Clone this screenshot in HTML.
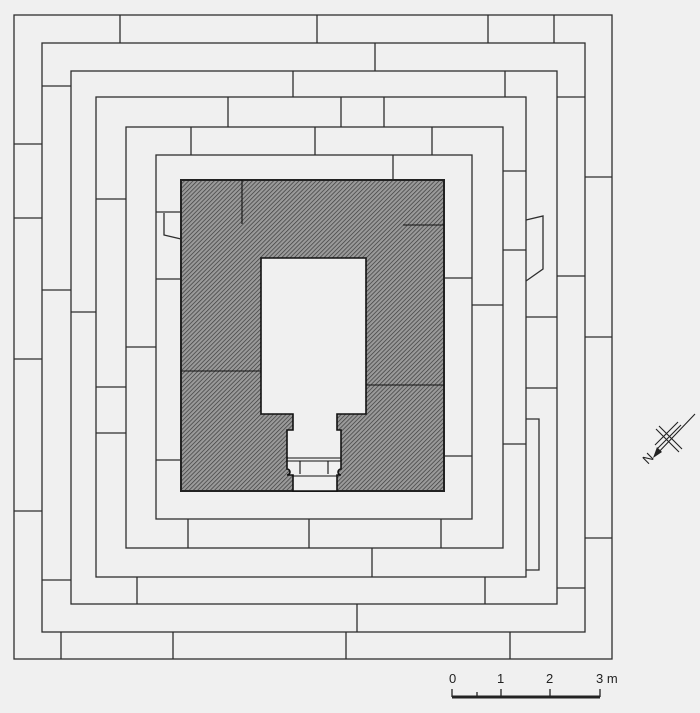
<!DOCTYPE html>
<html><head><meta charset="utf-8"><style>
html,body{margin:0;padding:0;background:#f0f0f0;}
svg{display:block;}
</style></head><body>
<svg width="700" height="713" viewBox="0 0 700 713" xmlns="http://www.w3.org/2000/svg">
<defs>
<pattern id="h" width="3" height="3" patternUnits="userSpaceOnUse" patternTransform="rotate(45)">
<rect width="3" height="3" fill="#9a9a9a"/>
<line x1="0" y1="0" x2="0" y2="3" stroke="#3a3a3a" stroke-width="1.4"/>
</pattern>
</defs>
<rect width="700" height="713" fill="#f0f0f0"/>
<g fill="none" stroke="#2e2e2e" stroke-width="1.3">
<rect x="14" y="15" width="598" height="644"/>
<rect x="42" y="43" width="543" height="589"/>
<rect x="71" y="71" width="486" height="533"/>
<rect x="96" y="97" width="430" height="480"/>
<rect x="126" y="127" width="377" height="421"/>
<rect x="156" y="155" width="316" height="364"/>
<path d="M120 15V43M317 15V43M488 15V43M554 15V43
M14 144H42M14 218H42M14 359H42M14 511H42
M585 177H612M585 337H612M585 538H612
M61 632V659M173 632V659M346 632V659M510 632V659"/>
<path d="M375 43V71M42 86H71M42 290H71M42 580H71M557 97H585M557 276H585M557 588H585M357 604V632"/>
<path d="M293 71V97M505 71V97M71 312H96M526 317H557M526 388H557M137 577V604M485 577V604"/>
<path d="M526 419H539V570H526"/>
<path d="M228 97V127M341 97V127M384 97V127M96 199H126M96 387H126M96 433H126M503 171H526M503 250H526M503 444H526M372 548V577"/>
<path d="M191 127V155M315 127V155M432 127V155M126 347H156M472 305H503M188 519V548M309 519V548M441 519V548"/>
<path d="M393 155V180M156 212H181M156 279H181M156 460H181M444 278H472M444 456H472"/>
<path d="M164 213V235L181 239"/>
<path d="M526 220L543 216V269L526 281"/>
</g>
<rect x="181" y="180" width="263" height="311" fill="url(#h)" stroke="#222" stroke-width="2"/>
<path d="M261 258H366V414H337V430H341V469A3 3 0 0 0 341 475H337V491H293V475H287A3 3 0 0 0 287 469V430H293V414H261Z" fill="#f0f0f0" stroke="#111" stroke-width="1.6"/>
<g fill="none" stroke="#111" stroke-width="1.1">
<path d="M287 458H341M287 461H341M293 476H337M300 461V474M328 461V474"/>
<path d="M242 180V224M403 225H444M181 371H261M366 385H444"/>
</g>
<g stroke="#222" stroke-width="1.1" fill="none">
<path d="M695 414L655 456"/>
<path d="M656 429L679 452M659 426L682 449M658 448L681 425M655 445L678 422"/>
</g>
<path d="M653 458L657 447L662 452Z" fill="#222"/>
<text x="645" y="466" font-family="Liberation Sans, sans-serif" font-size="13" fill="#222" transform="rotate(-45 645 462)">N</text>
<g font-family="Liberation Sans, sans-serif" font-size="13" fill="#222">
<text x="449" y="683">0</text>
<text x="497" y="683">1</text>
<text x="546" y="683">2</text>
<text x="596" y="683">3 m</text>
</g>
<g stroke="#222" fill="none">
<path d="M452 697H600" stroke-width="3"/>
<path d="M452 689V697M477 692V697M501 689V697M550 689V697M600 689V697" stroke-width="1.3"/>
</g>
</svg>
</body></html>
